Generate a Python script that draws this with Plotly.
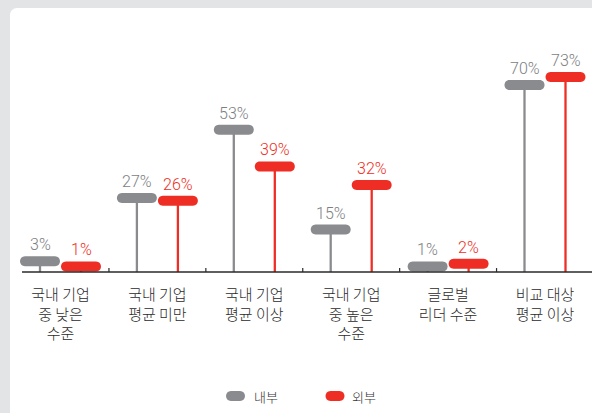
import plotly.graph_objects as go

# ---- data ----
categories = ["국내 기업<br>중 낮은<br>수준", "국내 기업<br>평균 미만", "국내 기업<br>평균 이상",
              "국내 기업<br>중 높은<br>수준", "글로벌<br>리더 수준", "비교 대상<br>평균 이상"]
internal = [3, 27, 53, 15, 1, 70]
external = [1, 26, 39, 32, 2, 73]
series_names = ["내부", "외부"]

# ---- style ----
GRAY = "#8a8b8e"
RED = "#ee2e24"
GRAY_TXT = "#7d7e81"
RED_TXT = "#ee2e24"
AXIS = "#2a2a2a"
W, H = 592, 413
L, R, T, B = 12, 0, 20, 137
PX_PER_PCT = 2.63
plot_h = H - T - B
y_lo = -1.5
y_hi = plot_h / PX_PER_PCT + y_lo
cat_w = 96.9
c0 = 60.5
x_lo = (L - c0) / cat_w
x_hi = (W - R - c0) / cat_w
OFF = 20.5 / cat_w
FONT_KR = "Noto Sans CJK KR"
FONT_NUM = "Roboto, Liberation Sans, Arial, sans-serif"

# label colours as in reference (last external label is grey there)
ext_label_colors = [RED_TXT, RED_TXT, RED_TXT, RED_TXT, RED_TXT, GRAY_TXT]


def pill(cx, cy, w, h):
    r = h / 2
    k = 4 / 3 * r
    xl, xr = cx - w / 2 + r, cx + w / 2 - r
    yt, yb = cy + r, cy - r
    return (f"M {xl},{yt} L {xr},{yt} C {xr + k},{yt} {xr + k},{yb} {xr},{yb} "
            f"L {xl},{yb} C {xl - k},{yb} {xl - k},{yt} {xl},{yt} Z")


fig = go.Figure()
shapes = []
annotations = []

n = len(categories)
for vals, off, color, lcols in [
    (internal, -OFF, GRAY, [GRAY_TXT] * n),
    (external, OFF, RED, ext_label_colors),
]:
    xs, ys = [], []
    for i, v in enumerate(vals):
        xs += [i + off, i + off, None]
        ys += [0, v, None]
    fig.add_trace(go.Scatter(x=xs, y=ys, mode="lines", line=dict(color=color, width=2.3),
                             showlegend=False, hoverinfo="skip"))
    for i, v in enumerate(vals):
        shapes.append(dict(type="path", xref="x", yref="y", xsizemode="pixel", ysizemode="pixel",
                           xanchor=i + off, yanchor=v, path=pill(0, 3, 40, 10),
                           fillcolor=color, line=dict(width=0), layer="above"))
        annotations.append(dict(x=i + off, y=v, xref="x", yref="y", text=f"{v}%", showarrow=False,
                                yanchor="bottom", yshift=8,
                                font=dict(family=FONT_NUM, size=16, weight=300, color=lcols[i])))

# baseline
shapes.append(dict(type="line", xref="x", yref="y", x0=(22 - c0) / cat_w, x1=x_hi + 0.2, y0=0, y1=0,
                   line=dict(color=AXIS, width=1.5), layer="above"))
# boundary ticks
for i in range(n - 1):
    shapes.append(dict(type="line", xref="x", yref="y", ysizemode="pixel", yanchor=0,
                       x0=i + 0.5, x1=i + 0.5, y0=0, y1=4, line=dict(color=AXIS, width=1.2)))

# white card
shapes.append(dict(type="path", xref="paper", yref="paper", xsizemode="pixel", ysizemode="pixel",
                   xanchor=0, yanchor=1,
                   path="M -2,5 C -2,8.87 1.13,12 5,12 L 620,12 L 620,-440 L -2,-440 Z",
                   fillcolor="white", line=dict(width=0), layer="below"))

# legend
for name, color, cx, tx in [(series_names[0], GRAY, 235.5, 252), (series_names[1], RED, 335, 350)]:
    shapes.append(dict(type="path", xref="paper", yref="paper", xsizemode="pixel", ysizemode="pixel",
                       xanchor=0, yanchor=1, path=pill(cx - L, -(396 - T), 19, 10),
                       fillcolor=color, line=dict(width=0)))
    annotations.append(dict(xref="paper", yref="paper", x=(tx - L) / (W - L - R),
                            y=((H - B) - 396) / plot_h, xanchor="left", yanchor="middle",
                            text=name, showarrow=False,
                            font=dict(family=FONT_KR, size=13, weight=300, color="#333333")))

fig.update_layout(
    width=W, height=H,
    margin=dict(l=L, r=R, t=T, b=B, pad=0),
    paper_bgcolor="#e3e4e6",
    plot_bgcolor="rgba(0,0,0,0)",
    shapes=shapes,
    annotations=annotations,
    showlegend=False,
    xaxis=dict(range=[x_lo, x_hi], tickvals=list(range(n)), ticktext=categories,
               showgrid=False, zeroline=False, showline=False, ticks="",
               ticklabelstandoff=8,
               tickfont=dict(family=FONT_KR, size=15, weight=300, color="#2b2b2b"), fixedrange=True),
    yaxis=dict(range=[y_lo, y_hi], visible=False, fixedrange=True),
)

fig.write_html("out.html", config={"displayModeBar": False},
               post_script="document.body.style.margin='0';document.body.style.overflow='hidden';")
